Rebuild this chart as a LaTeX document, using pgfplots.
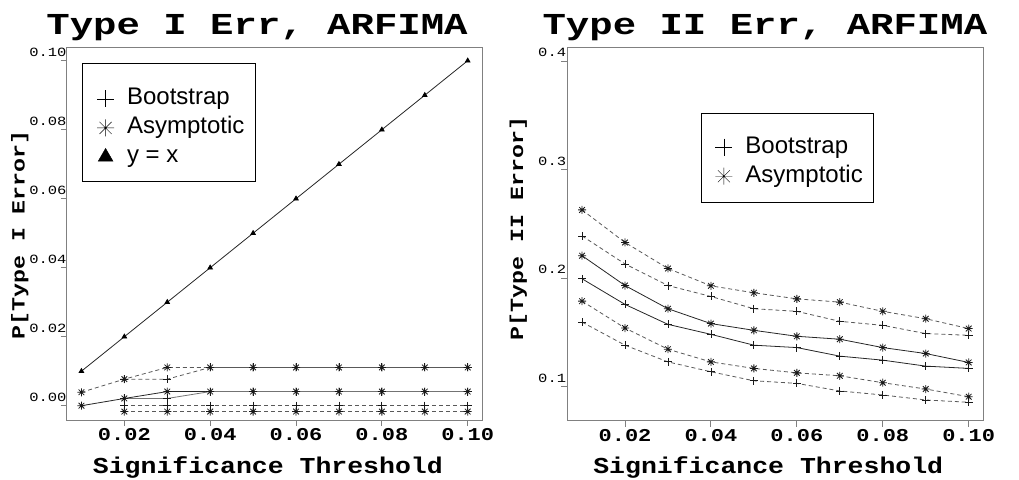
\documentclass[border=0pt]{standalone}
\usepackage{pgfplots}
\pgfplotsset{compat=1.18}
\usepackage{graphicx}
\usepackage{fontspec}
\setmainfont{Liberation Sans}
\newfontfamily\cour{Liberation Mono}

\newcommand\ttl[1]{\scalebox{1}[0.78]{\cour\bfseries\fontsize{39}{40}\selectfont #1}}
\newcommand\xlab[1]{\scalebox{1}[0.86]{\cour\bfseries\fontsize{26.5}{27}\selectfont #1}}
\newcommand\ylab[1]{\scalebox{1}[0.8]{\cour\bfseries\fontsize{23.3}{24}\selectfont #1}}
\newcommand\xt[1]{\scalebox{1}[0.82]{\cour\bfseries\fontsize{22}{22}\selectfont #1}}
\newcommand\yt[1]{\scalebox{1}[0.81]{\cour\fontsize{15.5}{16}\selectfont #1}}

\pgfdeclareplotmark{rast}{%
  \pgfpathmoveto{\pgfqpoint{-\pgfplotmarksize}{0pt}}%
  \pgfpathlineto{\pgfqpoint{\pgfplotmarksize}{0pt}}%
  \pgfpathmoveto{\pgfqpoint{0pt}{-\pgfplotmarksize}}%
  \pgfpathlineto{\pgfqpoint{0pt}{\pgfplotmarksize}}%
  \pgfpathmoveto{\pgfqpoint{-0.7071\pgfplotmarksize}{-0.7071\pgfplotmarksize}}%
  \pgfpathlineto{\pgfqpoint{0.7071\pgfplotmarksize}{0.7071\pgfplotmarksize}}%
  \pgfpathmoveto{\pgfqpoint{-0.7071\pgfplotmarksize}{0.7071\pgfplotmarksize}}%
  \pgfpathlineto{\pgfqpoint{0.7071\pgfplotmarksize}{-0.7071\pgfplotmarksize}}%
  \pgfusepathqstroke}

\pgfplotsset{
  rbase/.style={
    scale only axis,
    axis line style={black!50, line width=0.9pt},
    tick style={black!50, line width=0.9pt},
    tick align=outside, major tick length=6pt, tick pos=left,
    xmin=0.00657, xmax=0.1034,
    xtick={0.02,0.04,0.06,0.08,0.10},
    xticklabels={{\xt{0.02}},{\xt{0.04}},{\xt{0.06}},{\xt{0.08}},{\xt{0.10}}},
    xticklabel style={anchor=base, yshift=-14.7pt, inner sep=0pt},
    yticklabel style={anchor=south east, inner sep=0pt, xshift=6pt, yshift=4pt},
    legend cell align=left,
    legend image code/.code={\path (-13.5pt,0pt); \draw[#1, mark size=8.5pt, only marks, solid] plot coordinates {(0pt,0pt)};},
    legend style={draw=none, fill=none, anchor=north west,
      inner xsep=9pt, inner ysep=18pt, row sep=5pt, column sep=12pt,
      font=\fontsize{24}{28}\selectfont,
      nodes={inner sep=1pt, text height=17pt, text depth=5pt}},
  },
  sol/.style={black!85, line width=0.8pt, solid},
  das/.style={black!65, line width=0.8pt, dash pattern=on 4pt off 3pt},
  pl/.style={mark=+, mark size=4pt, mark options={solid, black!90, line width=0.8pt}},
  as/.style={mark=rast, mark size=4pt, mark options={solid, black!90, line width=0.8pt}},
}

\begin{document}
\begin{tikzpicture}[x=1pt,y=1pt]
\path[use as bounding box] (0pt,0pt) rectangle (1019pt,479pt);

% ---------------- Left panel ----------------
\begin{axis}[rbase,
  at={(66.7pt,59pt)}, anchor=south west,
  width=415.6pt, height=372.3pt,
  ymin=-0.00414, ymax=0.10377,
  ytick={0,0.02,0.04,0.06,0.08,0.10},
  yticklabels={{\yt{0.00}},{\yt{0.02}},{\yt{0.04}},{\yt{0.06}},{\yt{0.08}},{\yt{0.10}}},
  title={\ttl{Type I Err, ARFIMA}},
  every axis title/.style={at={(0.458,1)}, anchor=base, yshift=12.7pt},
  xlabel={\xlab{Significance Threshold}},
  every axis x label/.style={at={(0.484,0)}, anchor=base, yshift=-53pt},
  ylabel={\ylab{P[Type I Error]}},
  every axis y label/.style={at={(0,0.497)}, xshift=-42pt, rotate=90, anchor=base},
  legend style={at={(0.0385,0.9436)}},
]
\draw[black, line width=1pt] (rel axis cs:0.0385,0.9562) rectangle (rel axis cs:0.4531,0.640);
\addlegendimage{mark=+, black}
\addlegendentry{Bootstrap}
\addlegendimage{mark=rast, black}
\addlegendentry{Asymptotic}
\addlegendimage{mark=triangle*, black, mark size=7pt}
\addlegendentry{y = x}

% y = x
\addplot[sol, mark=triangle*, mark size=2.6pt, mark options={black}, forget plot] coordinates {
(0.01,0.01)(0.02,0.02)(0.03,0.03)(0.04,0.04)(0.05,0.05)(0.06,0.06)(0.07,0.07)(0.08,0.08)(0.09,0.09)(0.10,0.10)};
% Asymptotic upper
\addplot[das, as, forget plot] coordinates {
(0.01,0.0039)(0.02,0.0077)(0.03,0.0111)(0.04,0.0111)(0.05,0.0111)(0.06,0.0111)(0.07,0.0111)(0.08,0.0111)(0.09,0.0111)(0.10,0.0111)};
% Bootstrap upper
\addplot[das, pl, forget plot] coordinates {
(0.02,0.0077)(0.03,0.0077)(0.04,0.0111)(0.05,0.0111)(0.06,0.0111)(0.07,0.0111)(0.08,0.0111)(0.09,0.0111)(0.10,0.0111)};
% Asymptotic mean
\addplot[sol, as, forget plot] coordinates {
(0.01,0.0000)(0.02,0.0021)(0.03,0.0041)(0.04,0.0041)(0.05,0.0041)(0.06,0.0041)(0.07,0.0041)(0.08,0.0041)(0.09,0.0041)(0.10,0.0041)};
% Bootstrap mean
\addplot[sol, black!55, pl, forget plot] coordinates {
(0.02,0.0021)(0.03,0.0021)(0.04,0.0041)(0.05,0.0041)(0.06,0.0041)(0.07,0.0041)(0.08,0.0041)(0.09,0.0041)(0.10,0.0041)};
% Bootstrap lower
\addplot[das, pl, forget plot] coordinates {
(0.02,0.0000)(0.03,0.0000)(0.04,0.0000)(0.05,0.0000)(0.06,0.0000)(0.07,0.0000)(0.08,0.0000)(0.09,0.0000)(0.10,0.0000)};
% Asymptotic lower
\addplot[das, as, forget plot] coordinates {
(0.02,-0.0017)(0.03,-0.0017)(0.04,-0.0017)(0.05,-0.0017)(0.06,-0.0017)(0.07,-0.0017)(0.08,-0.0017)(0.09,-0.0017)(0.10,-0.0017)};
\end{axis}

% ---------------- Right panel ----------------
\begin{axis}[rbase,
  at={(567.3pt,58.3pt)}, anchor=south west,
  width=416pt, height=373pt,
  ymin=0.0687, ymax=0.4125,
  ytick={0.1,0.2,0.3,0.4},
  yticklabels={{\yt{0.1}},{\yt{0.2}},{\yt{0.3}},{\yt{0.4}}},
  yticklabel style={xshift=-1pt},
  title={\ttl{Type II Err, ARFIMA}},
  every axis title/.style={at={(0.475,1)}, anchor=base, yshift=12.7pt},
  xlabel={\xlab{Significance Threshold}},
  every axis x label/.style={at={(0.483,0)}, anchor=base, yshift=-53pt},
  ylabel={\ylab{P[Type II Error]}},
  every axis y label/.style={at={(0,0.516)}, xshift=-44.3pt, rotate=90, anchor=base},
  legend style={at={(0.3214,0.8142)}},
]
\draw[black, line width=1pt] (rel axis cs:0.3214,0.8241) rectangle (rel axis cs:0.7356,0.5855);
\addlegendimage{mark=+, black}
\addlegendentry{Bootstrap}
\addlegendimage{mark=rast, black}
\addlegendentry{Asymptotic}

% Asymptotic upper
\addplot[das, as, forget plot] coordinates {
(0.01,0.263)(0.02,0.233)(0.03,0.209)(0.04,0.193)(0.05,0.1866)(0.06,0.181)(0.07,0.178)(0.08,0.1695)(0.09,0.1627)(0.10,0.1536)};
% Bootstrap upper
\addplot[das, pl, forget plot] coordinates {
(0.01,0.239)(0.02,0.2132)(0.03,0.1933)(0.04,0.1832)(0.05,0.1719)(0.06,0.1695)(0.07,0.1603)(0.08,0.1566)(0.09,0.149)(0.10,0.1474)};
% Asymptotic mean
\addplot[sol, as, forget plot] coordinates {
(0.01,0.2208)(0.02,0.1933)(0.03,0.1719)(0.04,0.1582)(0.05,0.152)(0.06,0.1465)(0.07,0.1438)(0.08,0.1361)(0.09,0.1306)(0.10,0.1224)};
% Bootstrap mean
\addplot[sol, pl, forget plot] coordinates {
(0.01,0.1995)(0.02,0.1759)(0.03,0.1575)(0.04,0.1483)(0.05,0.1383)(0.06,0.1361)(0.07,0.1282)(0.08,0.1245)(0.09,0.119)(0.10,0.1169)};
% Asymptotic lower
\addplot[das, as, forget plot] coordinates {
(0.01,0.1789)(0.02,0.1541)(0.03,0.1346)(0.04,0.1229)(0.05,0.1169)(0.06,0.1128)(0.07,0.1101)(0.08,0.1037)(0.09,0.0979)(0.10,0.0908)};
% Bootstrap lower
\addplot[das, pl, forget plot] coordinates {
(0.01,0.1596)(0.02,0.1383)(0.03,0.1229)(0.04,0.1138)(0.05,0.1055)(0.06,0.1031)(0.07,0.0961)(0.08,0.0924)(0.09,0.0878)(0.10,0.0857)};
\end{axis}
\end{tikzpicture}
\end{document}
